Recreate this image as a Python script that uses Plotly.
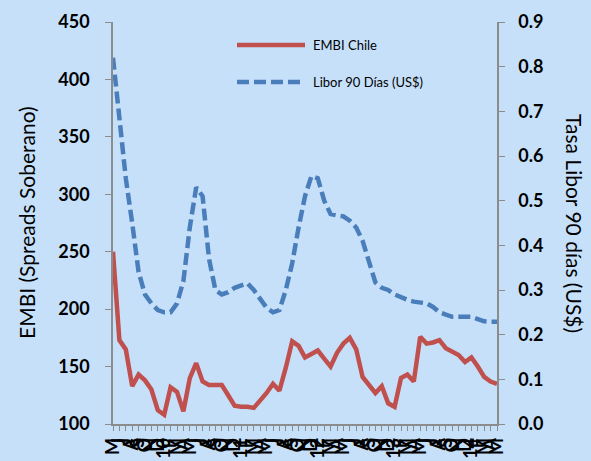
import plotly.graph_objects as go

# Monthly, May 2009 .. May 2014 (61 points)
month_initials = ["E", "F", "M", "A", "M", "J", "J", "A", "S", "O", "N", "D"]
start_year, start_month = 2009, 5
n_points = 61

embi_chile = [250, 173, 165, 133, 143, 138, 130, 112, 108, 132,
              128, 111, 140, 153, 137, 134, 134, 134, 125, 116,
              115, 115, 114, 120, 127, 135, 129, 149, 172, 168,
              158, 161, 164, 157, 150, 162, 170, 175, 165, 141,
              134, 127, 133, 118, 115, 140, 143, 137, 176, 170,
              171, 173, 166, 163, 160, 154, 158, 150, 141, 137,
              135]

libor_90 = [0.82, 0.68, 0.55, 0.45, 0.34, 0.29, 0.27, 0.255, 0.25, 0.25,
            0.27, 0.32, 0.44, 0.53, 0.51, 0.37, 0.30, 0.29, 0.295, 0.305,
            0.31, 0.315, 0.30, 0.28, 0.26, 0.25, 0.255, 0.30, 0.36, 0.44,
            0.51, 0.555, 0.55, 0.50, 0.47, 0.467, 0.465, 0.455, 0.44, 0.41,
            0.36, 0.317, 0.305, 0.30, 0.29, 0.283, 0.278, 0.274, 0.272, 0.27,
            0.262, 0.25, 0.245, 0.24, 0.24, 0.24, 0.24, 0.235, 0.23, 0.229,
            0.229]

left_ticks = [100, 150, 200, 250, 300, 350, 400, 450]
right_ticks = [0.0, 0.1, 0.2, 0.3, 0.4, 0.5, 0.6, 0.7, 0.8, 0.9]
right_ticktext = ["0.0", "0.1", "0.2", "0.3", "0.4", "0.5", "0.6", "0.7", "0.8", "0.9"]

x_idx = list(range(n_points))
x_labels = []
for i in x_idx:
    m = (start_month - 1 + i) % 12
    y = start_year + (start_month - 1 + i) // 12
    x_labels.append(str(y)[2:] if m == 0 else month_initials[m])

RED = "#C0504D"
BLUE = "#4A7EBB"
BG = "#C6E0FA"
AXIS = "#8C8C8C"

fig = go.Figure()
fig.add_trace(go.Scatter(x=x_idx, y=embi_chile, mode="lines", name="EMBI Chile",
                         line=dict(color=RED, width=4.5), yaxis="y"))
fig.add_trace(go.Scatter(x=x_idx, y=libor_90, mode="lines", name="Libor 90 Días (US$)",
                         line=dict(color=BLUE, width=4.5, dash="12px,5px"), yaxis="y2"))

tickfont = dict(family="Lato", size=18, color="black", weight="bold")

fig.update_layout(
    width=591, height=461,
    margin=dict(l=113, r=94, t=22, b=37),
    paper_bgcolor=BG, plot_bgcolor=BG,
    showlegend=False,
    xaxis=dict(range=[0, n_points - 1], tickmode="array", tickvals=x_idx, ticktext=x_labels,
               tickangle=-90, tickfont=dict(family="Lato", size=18, color="black", weight="bold"),
               showgrid=False, zeroline=False, showline=True, linecolor=AXIS, linewidth=1.5,
               ticks="outside", ticklen=5, tickcolor=AXIS, tickwidth=1, automargin=False),
    yaxis=dict(range=[100, 450], tickvals=left_ticks, tickfont=tickfont,
               showgrid=False, zeroline=False, showline=True, linecolor=AXIS, linewidth=1.5,
               ticks="outside", ticklen=6, tickcolor=AXIS, ticklabelstandoff=12, automargin=False),
    yaxis2=dict(range=[0, 0.9], tickvals=right_ticks, ticktext=right_ticktext, tickfont=tickfont,
                overlaying="y", side="right",
                showgrid=False, zeroline=False, showline=True, linecolor=AXIS, linewidth=1.5,
                ticks="outside", ticklen=6, tickcolor=AXIS, ticklabelstandoff=10, automargin=False),
)

# axis titles
fig.add_annotation(text="EMBI (Spreads Soberano)", xref="paper", yref="paper",
                   x=(26 - 113) / 384, y=0.5, xanchor="center", yanchor="middle",
                   textangle=-90, showarrow=False,
                   font=dict(family="Lato", size=21, color="black"))
fig.add_annotation(text="Tasa Libor 90 días (US$)", xref="paper", yref="paper",
                   x=(575 - 113) / 384, y=0.5, xanchor="center", yanchor="middle",
                   textangle=90, showarrow=False,
                   font=dict(family="Lato", size=21, color="black"))

# legend drawn inside the plot area
def px_x(px):
    return (px - 113) / 384

def px_y(py):
    return (424 - py) / 402

fig.add_shape(type="line", xref="paper", yref="paper", x0=px_x(237), x1=px_x(305),
              y0=px_y(45), y1=px_y(45), line=dict(color=RED, width=4.5))
fig.add_shape(type="line", xref="paper", yref="paper", x0=px_x(237), x1=px_x(305),
              y0=px_y(82), y1=px_y(82), line=dict(color=BLUE, width=4.5, dash="12px,5px"))
fig.add_annotation(text="EMBI Chile", xref="paper", yref="paper", x=px_x(311), y=px_y(45),
                   xanchor="left", yanchor="middle", showarrow=False,
                   font=dict(family="Lato", size=13, color="black"))
fig.add_annotation(text="Libor 90 Días (US$)", xref="paper", yref="paper", x=px_x(311), y=px_y(82),
                   xanchor="left", yanchor="middle", showarrow=False,
                   font=dict(family="Lato", size=13, color="black"))

fig.write_html("out.html",
               config={"displayModeBar": False},
               post_script="document.body.style.margin='0';"
                           "document.body.style.overflow='hidden';"
                           "document.body.style.background='" + BG + "';")
